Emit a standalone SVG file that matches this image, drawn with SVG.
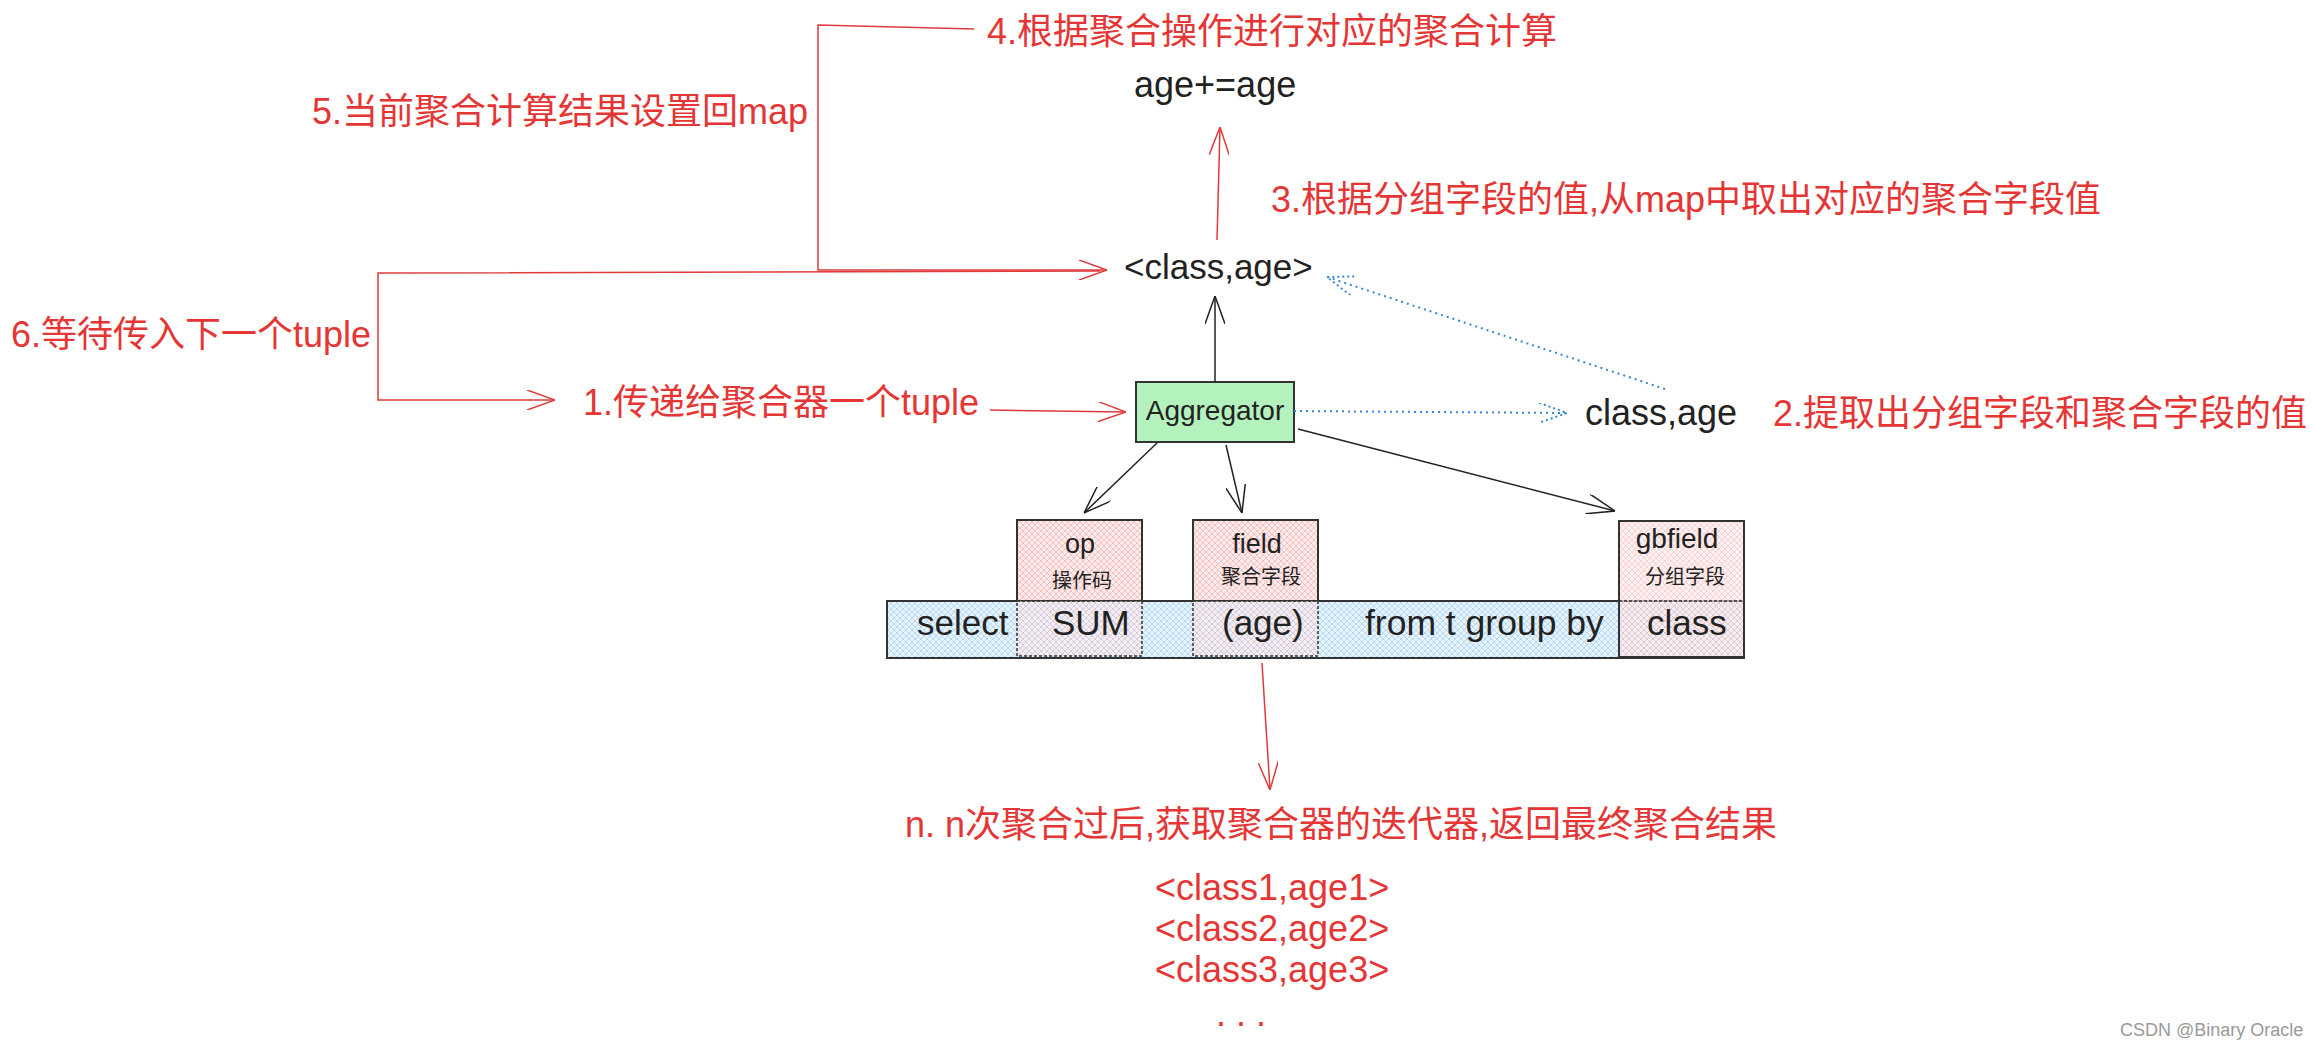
<svg xmlns="http://www.w3.org/2000/svg" width="2316" height="1044" viewBox="0 0 2316 1044">
<defs>
<style>
.red{fill:#e53535;font-family:"Liberation Sans","Noto Sans CJK SC",sans-serif;font-size:36px}
.blk{fill:#222;font-family:"Liberation Sans","Noto Sans CJK SC",sans-serif}
.rl{stroke:#e03a3a;stroke-width:1.5;fill:none}
.bl{stroke:#222;stroke-width:1.5;fill:none}
.dl{stroke:#3a86d0;stroke-width:2;fill:none;stroke-dasharray:2 4}
.box{stroke:#333;stroke-width:2}
</style>
<pattern id="pink" width="6" height="6" patternUnits="userSpaceOnUse"><rect width="6" height="6" fill="#fdeaea"/><path d="M0,0 L6,6 M6,0 L0,6" stroke="#f3b6b6" stroke-width="0.8"/></pattern>
<pattern id="blue" width="6" height="6" patternUnits="userSpaceOnUse"><rect width="6" height="6" fill="#e6f3fd"/><path d="M0,0 L6,6 M6,0 L0,6" stroke="#a9d3f3" stroke-width="0.8"/></pattern>
<marker id="ar" viewBox="0 0 28 20" refX="28" refY="10" markerWidth="28" markerHeight="20" markerUnits="userSpaceOnUse" orient="auto"><path d="M0,0 L28,10 L0,20" fill="none" stroke="#e03a3a" stroke-width="1.5"/></marker>
<marker id="ab" viewBox="0 0 28 20" refX="28" refY="10" markerWidth="28" markerHeight="20" markerUnits="userSpaceOnUse" orient="auto"><path d="M0,0 L28,10 L0,20" fill="none" stroke="#222" stroke-width="1.5"/></marker>
<marker id="ad" viewBox="0 0 28 20" refX="28" refY="10" markerWidth="28" markerHeight="20" markerUnits="userSpaceOnUse" orient="auto"><path d="M0,0 L28,10 L0,20" fill="none" stroke="#3a86d0" stroke-width="2" stroke-dasharray="2 3"/></marker>
</defs>
<rect width="2316" height="1044" fill="#fff"/>

<g id="sql">
<rect x="887" y="601" width="857" height="57" fill="url(#blue)" class="box"/>
<text class="blk" x="917" y="635" font-size="35">select</text>
<text class="blk" x="1365" y="635" font-size="35.5">from t group by</text>
</g>
<g id="op">
<rect x="1017" y="520" width="125" height="81" fill="url(#pink)" class="box"/>
<rect x="1017" y="601" width="125" height="55" fill="url(#pink)" fill-opacity="0.55" stroke="#333" stroke-width="1.5" stroke-dasharray="3 2"/>
<text class="blk" x="1080" y="553" font-size="27" text-anchor="middle">op</text>
<text class="blk" x="1082" y="588" font-size="20" text-anchor="middle">操作码</text>
<text class="blk" x="1052" y="635" font-size="35">SUM</text>
</g>
<g id="field">
<rect x="1193" y="520" width="125" height="81" fill="url(#pink)" class="box"/>
<rect x="1193" y="601" width="125" height="55" fill="url(#pink)" fill-opacity="0.55" stroke="#333" stroke-width="1.5" stroke-dasharray="3 2"/>
<text class="blk" x="1257" y="553" font-size="27" text-anchor="middle">field</text>
<text class="blk" x="1261" y="584" font-size="20" text-anchor="middle">聚合字段</text>
<text class="blk" x="1222" y="635" font-size="35">(age)</text>
</g>
<g id="gbfield">
<rect x="1619" y="521" width="125" height="136" fill="url(#pink)" fill-opacity="0.7" class="box"/>
<line x1="1619" y1="601" x2="1744" y2="601" stroke="#333" stroke-width="1.5" stroke-dasharray="3 2"/>
<text class="blk" x="1677" y="548" font-size="28" text-anchor="middle">gbfield</text>
<text class="blk" x="1685" y="584" font-size="20" text-anchor="middle">分组字段</text>
<text class="blk" x="1647" y="635" font-size="35">class</text>
</g>
<g id="aggregator">
<rect x="1136" y="382" width="158" height="60" fill="#b3f2bd" class="box"/>
<text class="blk" x="1215" y="420" font-size="28" text-anchor="middle">Aggregator</text>
</g>
<g id="classage-pair">
<text class="blk" x="1124" y="279" font-size="35">&lt;class,age&gt;</text>
</g>
<g id="age-sum">
<text class="blk" x="1134" y="97" font-size="36">age+=age</text>
</g>
<g id="classage-fields">
<text class="blk" x="1585" y="425" font-size="36">class,age</text>
</g>

<g id="labels">
<text class="red" x="987" y="44">4.根据聚合操作进行对应的聚合计算</text>
<text class="red" x="312" y="124">5.当前聚合计算结果设置回map</text>
<text class="red" x="1271" y="212">3.根据分组字段的值,从map中取出对应的聚合字段值</text>
<text class="red" x="11" y="347">6.等待传入下一个tuple</text>
<text class="red" x="583" y="415">1.传递给聚合器一个tuple</text>
<text class="red" x="1773" y="426">2.提取出分组字段和聚合字段的值</text>
<text class="red" x="905" y="837">n. n次聚合过后,获取聚合器的迭代器,返回最终聚合结果</text>
<text class="red" x="1155" y="900">&lt;class1,age1&gt;</text>
<text class="red" x="1155" y="941">&lt;class2,age2&gt;</text>
<text class="red" x="1155" y="982">&lt;class3,age3&gt;</text>
<text class="red" x="1216" y="1026">. . .</text>
</g>

<g id="connectors">
<path class="rl" d="M974,29 L818,25 L818,270 L1107,270" marker-end="url(#ar)"/>
<path class="rl" d="M1100,271 L378,273 L378,400 L555,400" marker-end="url(#ar)"/>
<path class="rl" d="M990,410 L1126,412" marker-end="url(#ar)"/>
<path class="rl" d="M1217,240 L1220,127" marker-end="url(#ar)"/>
<path class="rl" d="M1262,663 L1270,790" marker-end="url(#ar)"/>
<path class="bl" d="M1215,382 L1215,296" marker-end="url(#ab)"/>
<path class="bl" d="M1157,443 L1084,513" marker-end="url(#ab)"/>
<path class="bl" d="M1226,445 L1242,513" marker-end="url(#ab)"/>
<path class="bl" d="M1298,429 L1615,511" marker-end="url(#ab)"/>
<path class="dl" d="M1294,411 L1567,413" marker-end="url(#ad)"/>
<path class="dl" d="M1665,389 L1327,277" marker-end="url(#ad)"/>
</g>

<text x="2120" y="1036" font-family="Liberation Sans, sans-serif" font-size="18" fill="#9a9a9a">CSDN @Binary Oracle</text>
</svg>
